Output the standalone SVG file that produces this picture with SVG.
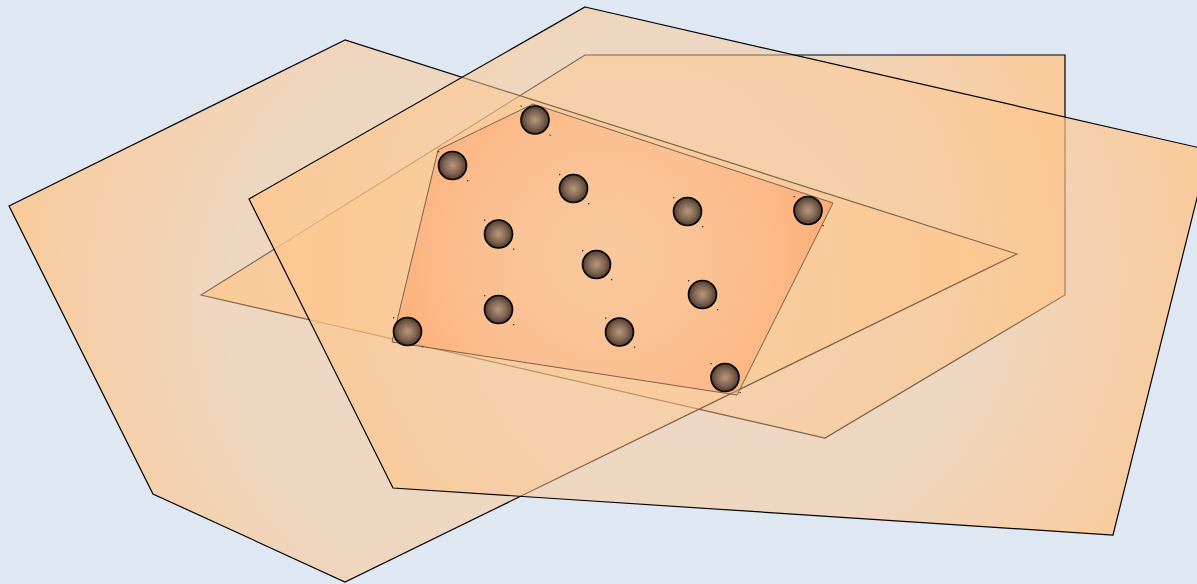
<svg xmlns="http://www.w3.org/2000/svg" width="1197" height="584" viewBox="0 0 1197 584">
<defs>
<radialGradient id="gA" gradientUnits="userSpaceOnUse" cx="513" cy="311" r="504">
<stop offset="0" stop-color="#fdc790" stop-opacity="0.47"/>
<stop offset="0.55" stop-color="#fdc790" stop-opacity="0.5"/>
<stop offset="1" stop-color="#fdc790" stop-opacity="0.87"/>
</radialGradient>
<radialGradient id="gB" gradientUnits="userSpaceOnUse" cx="723" cy="271" r="474">
<stop offset="0" stop-color="#fdc790" stop-opacity="0.47"/>
<stop offset="0.55" stop-color="#fdc790" stop-opacity="0.5"/>
<stop offset="1" stop-color="#fdc790" stop-opacity="0.87"/>
</radialGradient>
<radialGradient id="gC" gradientUnits="userSpaceOnUse" cx="633" cy="246" r="432">
<stop offset="0" stop-color="#fdc790" stop-opacity="0.47"/>
<stop offset="0.55" stop-color="#fdc790" stop-opacity="0.5"/>
<stop offset="1" stop-color="#fdc790" stop-opacity="0.87"/>
</radialGradient>
<radialGradient id="gIn" gradientUnits="userSpaceOnUse" cx="605" cy="255" r="230">
<stop offset="0" stop-color="#f8b090" stop-opacity="0.12"/>
<stop offset="0.6" stop-color="#ffa474" stop-opacity="0.35"/>
<stop offset="1" stop-color="#ff9c60" stop-opacity="0.6"/>
</radialGradient>
<radialGradient id="gBall" cx="0.5" cy="0.5" r="0.5">
<stop offset="0" stop-color="#b8977c"/>
<stop offset="0.6" stop-color="#826652"/>
<stop offset="1" stop-color="#4a392c"/>
</radialGradient>
<style>
.shape{stroke:#000;stroke-width:1.2;stroke-linejoin:miter}
.inner{stroke:#7a6250;stroke-width:1;stroke-linejoin:miter}
.ball{fill:url(#gBall);stroke:#000;stroke-width:1.6}
.dot{fill:#333}
</style>
</defs>
<rect x="0" y="0" width="1197" height="584" fill="#dfe7f2"/>
<g id="polyC"><polygon class="shape" fill="url(#gC)" points="585,55 1065,55 1065,295 825,438 201,295"/></g>
<g id="polyA"><polygon class="shape" fill="url(#gA)" points="345,40 9,206 153,494 345,582 1017,254"/></g>
<g id="polyB"><polygon class="shape" fill="url(#gB)" points="585,7 1209,150 1113,535 393,488 249,199"/></g>
<g id="hull"><polygon class="inner" fill="url(#gIn)" points="438,150 533,104 833,203 737,395 392,342"/></g>
<g id="connectors"></g>
<g id="p1"><circle class="ball" cx="535" cy="120" r="14"/><rect class="dot" x="520.5" y="105.5" width="1.3" height="1.3"/><rect class="dot" x="549.5" y="134.5" width="1.3" height="1.3"/></g>
<g id="p2"><circle class="ball" cx="452.5" cy="165.5" r="14"/><rect class="dot" x="438" y="151" width="1.3" height="1.3"/><rect class="dot" x="467" y="180" width="1.3" height="1.3"/></g>
<g id="p3"><circle class="ball" cx="573.5" cy="188.5" r="14"/><rect class="dot" x="559" y="174" width="1.3" height="1.3"/><rect class="dot" x="588" y="203" width="1.3" height="1.3"/></g>
<g id="p4"><circle class="ball" cx="687.5" cy="211.5" r="14"/><rect class="dot" x="673" y="197" width="1.3" height="1.3"/><rect class="dot" x="702" y="226" width="1.3" height="1.3"/></g>
<g id="p5"><circle class="ball" cx="808" cy="210.5" r="14"/><rect class="dot" x="793.5" y="196" width="1.3" height="1.3"/><rect class="dot" x="822.5" y="225" width="1.3" height="1.3"/></g>
<g id="p6"><circle class="ball" cx="498.5" cy="234" r="14"/><rect class="dot" x="484" y="219.5" width="1.3" height="1.3"/><rect class="dot" x="513" y="248.5" width="1.3" height="1.3"/></g>
<g id="p7"><circle class="ball" cx="596.5" cy="264.5" r="14"/><rect class="dot" x="582" y="250" width="1.3" height="1.3"/><rect class="dot" x="611" y="279" width="1.3" height="1.3"/></g>
<g id="p8"><circle class="ball" cx="702.5" cy="294.5" r="14"/><rect class="dot" x="688" y="280" width="1.3" height="1.3"/><rect class="dot" x="717" y="309" width="1.3" height="1.3"/></g>
<g id="p9"><circle class="ball" cx="498.5" cy="309.5" r="14"/><rect class="dot" x="484" y="295" width="1.3" height="1.3"/><rect class="dot" x="513" y="324" width="1.3" height="1.3"/></g>
<g id="p10"><circle class="ball" cx="407.5" cy="331.5" r="14"/><rect class="dot" x="393" y="317" width="1.3" height="1.3"/><rect class="dot" x="422" y="346" width="1.3" height="1.3"/></g>
<g id="p11"><circle class="ball" cx="619.5" cy="332" r="14"/><rect class="dot" x="605" y="317.5" width="1.3" height="1.3"/><rect class="dot" x="634" y="346.5" width="1.3" height="1.3"/></g>
<g id="p12"><circle class="ball" cx="725" cy="377.5" r="14"/><rect class="dot" x="710.5" y="363" width="1.3" height="1.3"/><rect class="dot" x="739.5" y="392" width="1.3" height="1.3"/></g>
</svg>
